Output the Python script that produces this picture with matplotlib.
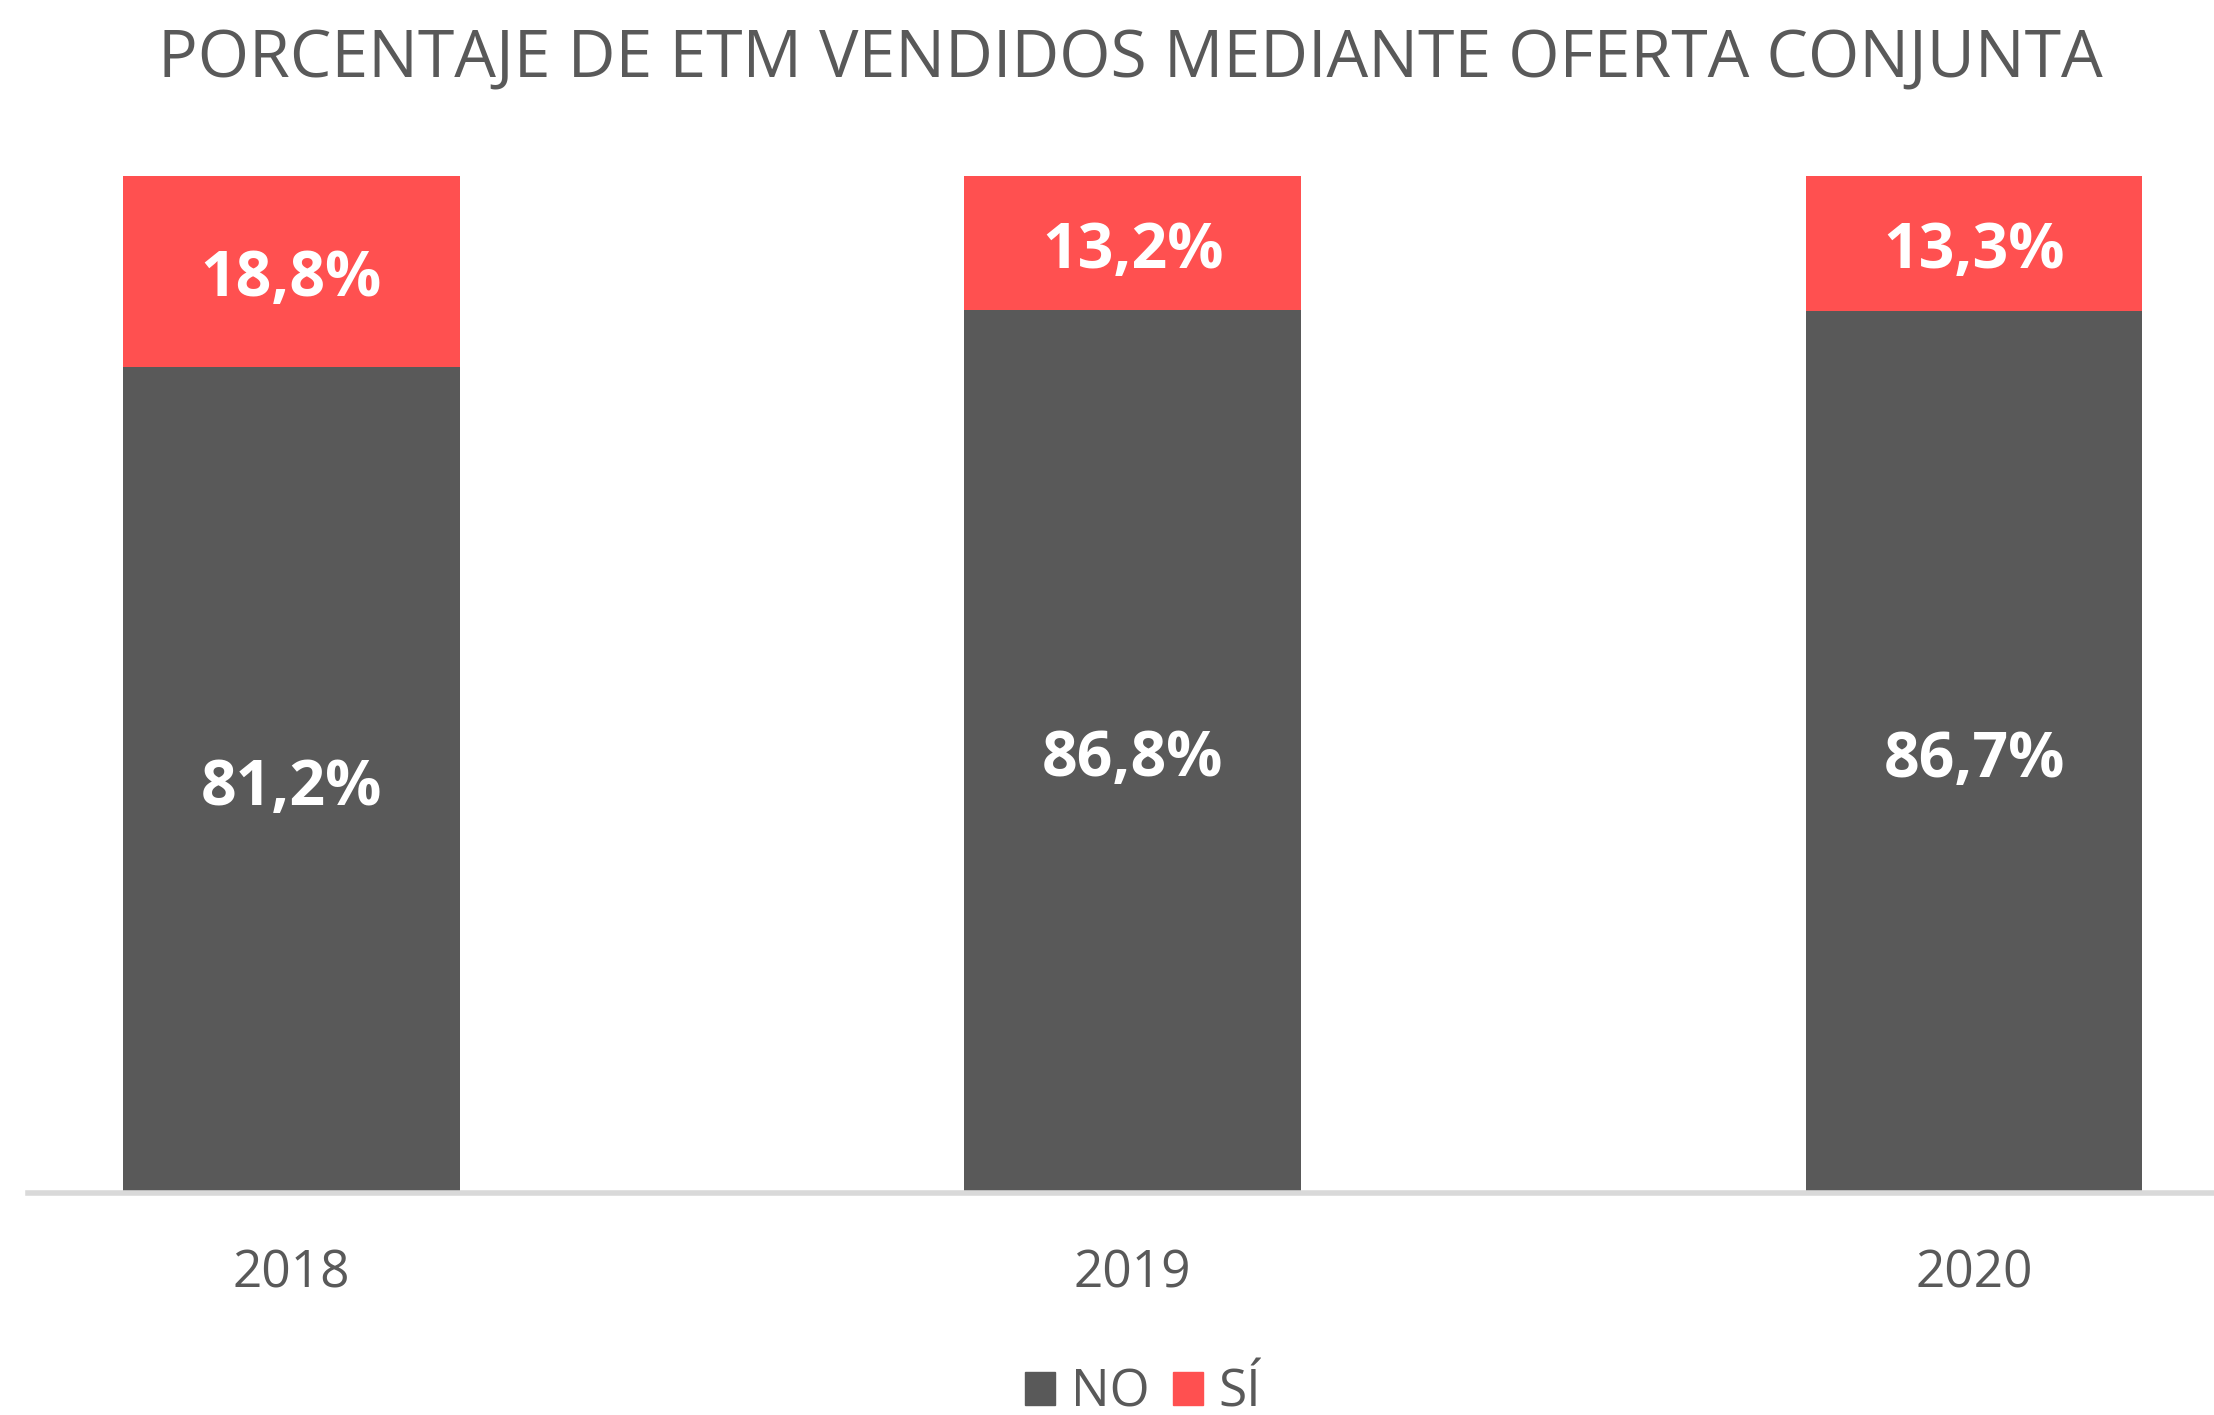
import matplotlib
matplotlib.use("Agg")
import matplotlib.pyplot as plt
from matplotlib.patches import Patch

# datos
years = ["2018", "2019", "2020"]
no_pct = [81.2, 86.8, 86.7]
si_pct = [18.8, 13.2, 13.3]

GRIS = "#595959"
ROJO = "#FF5050"
TEXTO = "#595959"

plt.rcParams["font.family"] = ["Open Sans", "DejaVu Sans"]

fig = plt.figure(figsize=(22.14, 14.15), dpi=100)
ax = fig.add_axes([28 / 2214, 1 - 1193 / 1415, 1 - 28 / 2214, (1193 - 176) / 1415])

x = list(range(len(years)))
ax.bar(x, no_pct, width=0.4, color=GRIS, label="NO")
ax.bar(x, si_pct, width=0.4, bottom=no_pct, color=ROJO, label="SÍ")

# etiquetas dentro de las barras
for i in x:
    ax.annotate(f"{no_pct[i]:.1f}%".replace(".", ","), (i, no_pct[i] / 2),
                xytext=(0, -6), textcoords="offset points",
                ha="center", va="center", color="white", fontsize=45, fontweight="bold")
    ax.annotate(f"{si_pct[i]:.1f}%".replace(".", ","), (i, no_pct[i] + si_pct[i] / 2),
                xytext=(0, -6), textcoords="offset points",
                ha="center", va="center", color="white", fontsize=45, fontweight="bold")

ax.set_xlim(-0.313, 2.285)
ax.set_ylim(0, 100)
ax.set_xticks(x)
ax.set_xticklabels(years, fontsize=37, color=TEXTO)
ax.tick_params(axis="x", length=0, pad=40)
ax.set_yticks([])
for s in ["top", "right", "left"]:
    ax.spines[s].set_visible(False)
ax.spines["bottom"].set_color("#d9d9d9")
ax.spines["bottom"].set_linewidth(4)

fig.text(1130 / 2214, 1 - 60 / 1415, "PORCENTAJE DE ETM VENDIDOS MEDIANTE OFERTA CONJUNTA",
         ha="center", va="center", fontsize=47.5, color=TEXTO)

handles = [Patch(color=GRIS, label="NO"), Patch(color=ROJO, label="SÍ")]
fig.legend(handles=handles, loc="center", bbox_to_anchor=(1143 / 2214, 1 - 1393 / 1415),
           ncol=2, frameon=False, fontsize=37, labelcolor=TEXTO,
           handlelength=0.6, handleheight=0.6, handletextpad=0.3, columnspacing=0.45)

plt.savefig("out.png", dpi=100)
